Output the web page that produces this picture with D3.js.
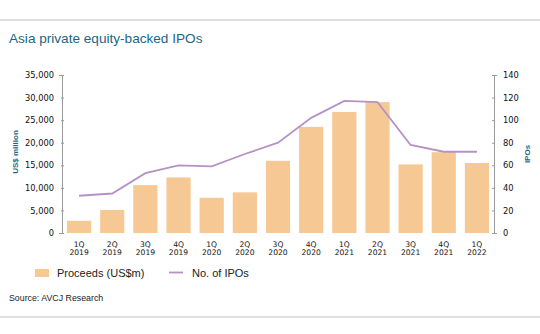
<!DOCTYPE html>
<html lang="en">
<head>
<meta charset="UTF-8" />
<title>Asia private equity-backed IPOs</title>
<style>
  body { margin: 0; background: #fff; }
  svg { display: block; font-family: "Liberation Sans", Arial, sans-serif; }
  .tick text { font-family: "DejaVu Sans", sans-serif; font-size: 8.3px; fill: #111; }
  .domain, .tick line { stroke: #9a9a9a; }
  .title { font-size: 13.6px; fill: #1a6785; }
  .axisTitle { font-size: 8px; font-weight: 700; fill: #1d6a87; }
  .xlab { font-family: "DejaVu Sans", sans-serif; font-size: 7.6px; fill: #111; }
  .legend { font-size: 11px; fill: #222; }
  .source { font-size: 8.8px; fill: #222; }
</style>
</head>
<body>
<svg width="540" height="334"></svg>
<script src="https://cdnjs.cloudflare.com/ajax/libs/d3/7.9.0/d3.min.js"></script>
<script>
const quarters = ["1Q", "2Q", "3Q", "4Q", "1Q", "2Q", "3Q", "4Q", "1Q", "2Q", "3Q", "4Q", "1Q"];
const years = ["2019", "2019", "2019", "2019", "2020", "2020", "2020", "2020", "2021", "2021", "2021", "2021", "2022"];
const proceeds = [2700, 5100, 10600, 12300, 7800, 9000, 16000, 23500, 26800, 29000, 15200, 17900, 15500];
const ipoCount = [33, 35, 53, 60, 59, 70, 80, 102, 117, 116, 78, 72, 72];
const leftTicks = [0, 5000, 10000, 15000, 20000, 25000, 30000, 35000];
const rightTicks = [0, 20, 40, 60, 80, 100, 120, 140];

const barColor = "#f6c994";
const lineColor = "#b592c6";

const svg = d3.select("svg");
const margin = { top: 75, right: 46, bottom: 101, left: 62 };
const width = 540 - margin.left - margin.right;
const height = 334 - margin.top - margin.bottom;

// frame lines
svg.append("line").attr("x1", 0).attr("x2", 540).attr("y1", 20).attr("y2", 20)
  .attr("stroke", "#d4d4d4").attr("stroke-width", 1.5);
svg.append("line").attr("x1", 0).attr("x2", 540).attr("y1", 317).attr("y2", 317)
  .attr("stroke", "#d4d4d4").attr("stroke-width", 1.5);

svg.append("text").attr("class", "title").attr("x", 9).attr("y", 43)
  .text("Asia private equity-backed IPOs");

const g = svg.append("g").attr("transform", `translate(${margin.left},${margin.top})`);

const idx = d3.range(quarters.length);
const x = d3.scaleBand().domain(idx).range([0, width]).paddingInner(0.27).paddingOuter(0.15);
const yL = d3.scaleLinear().domain([0, 35000]).range([height, 0]);
const yR = d3.scaleLinear().domain([0, 140]).range([height, 0]);

g.append("g")
  .call(d3.axisLeft(yL).tickValues(leftTicks).tickSize(3).tickPadding(5).tickFormat(d3.format(",")))
  .call(a => a.selectAll(".tick line").attr("x2", 2).attr("x1", -1));

g.append("g").attr("transform", `translate(${width},0)`)
  .call(d3.axisRight(yR).tickValues(rightTicks).tickSize(3).tickPadding(6))
  .call(a => a.selectAll(".tick line").attr("x1", -2).attr("x2", 1));

g.selectAll("rect.bar").data(proceeds).join("rect")
  .attr("class", "bar")
  .attr("x", (d, i) => x(i))
  .attr("width", x.bandwidth())
  .attr("y", d => yL(d))
  .attr("height", d => height - yL(d))
  .attr("fill", barColor);

const line = d3.line().x((d, i) => x(i) + x.bandwidth() / 2).y(d => yR(d));
g.append("path").datum(ipoCount)
  .attr("d", line).attr("fill", "none")
  .attr("stroke", lineColor).attr("stroke-width", 1.8);

// x labels
const xl = g.selectAll("text.xlab").data(idx).join("text")
  .attr("class", "xlab").attr("text-anchor", "middle")
  .attr("x", i => x(i) + x.bandwidth() / 2);
xl.append("tspan").attr("x", i => x(i) + x.bandwidth() / 2).attr("y", height + 14).text(i => quarters[i]);
xl.append("tspan").attr("x", i => x(i) + x.bandwidth() / 2).attr("y", height + 21.5).text(i => years[i]);

// axis titles
svg.append("text").attr("class", "axisTitle").attr("text-anchor", "middle")
  .attr("transform", `translate(18,152) rotate(-90)`)
  .text("US$ million");
svg.append("text").attr("class", "axisTitle").attr("text-anchor", "middle")
  .attr("transform", `translate(530,154) rotate(-90)`)
  .text("IPOs");

// legend
svg.append("rect").attr("x", 35).attr("y", 269).attr("width", 14).attr("height", 8).attr("fill", barColor);
svg.append("text").attr("class", "legend").attr("x", 57).attr("y", 277).text("Proceeds (US$m)");
svg.append("line").attr("x1", 169).attr("x2", 183).attr("y1", 272.5).attr("y2", 272.5)
  .attr("stroke", lineColor).attr("stroke-width", 1.8);
svg.append("text").attr("class", "legend").attr("x", 192).attr("y", 277).text("No. of IPOs");

svg.append("text").attr("class", "source").attr("x", 9).attr("y", 301).text("Source: AVCJ Research");
</script>
</body>
</html>
